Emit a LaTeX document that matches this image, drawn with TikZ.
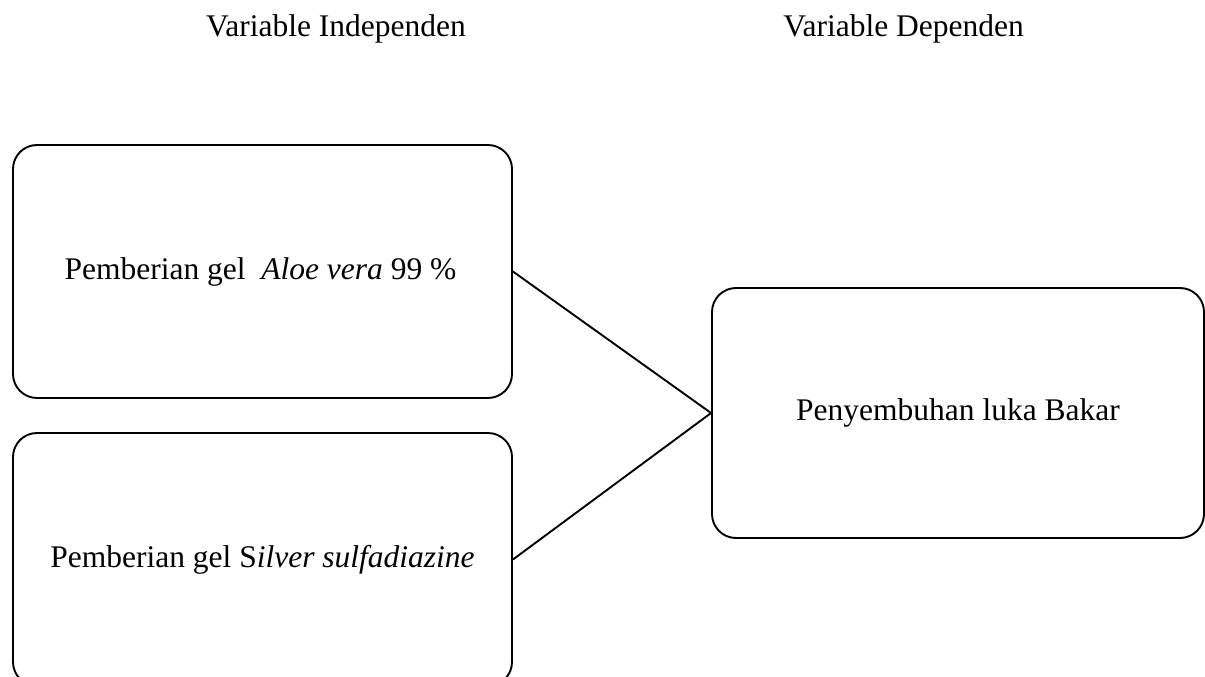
\documentclass[tikz,border=0pt]{standalone}
\usepackage{fontspec}
\setmainfont{Liberation Serif}
\begin{document}
\begin{tikzpicture}[x=1pt,y=-1pt,
  txt/.style={font=\fontsize{31.5}{38}\selectfont, inner sep=0pt},
  varbox/.style={draw, line width=1.9pt, rounded corners=24pt, align=center,
    font=\fontsize{31.5}{38}\selectfont, inner sep=0pt},
  link/.style={line width=1.9pt}]
\clip (0,0) rectangle (1205,677);
\fill[white] (0,0) rectangle (1205,677);
\node[txt, anchor=base] (hind) at (336,37) {Variable Independen};
\node[txt, anchor=base] (hdep) at (903.5,37) {Variable Dependen};
\node[varbox, minimum width=499pt, minimum height=253pt] (aloe) at (262.5,271.5)
  {\hspace*{-4pt}Pemberian gel\ \ \textit{Aloe vera} 99 \%};
\node[varbox, minimum width=499pt, minimum height=253pt] (ssd) at (262.5,559.5)
  {Pemberian gel S\textit{ilver sulfadiazine}};
\node[varbox, minimum width=492pt, minimum height=250pt] (heal) at (958,413)
  {Penyembuhan luka Bakar};
\draw[link] (aloe.east) -- (heal.west);
\draw[link] (ssd.east) -- (heal.west);
\end{tikzpicture}
\end{document}
